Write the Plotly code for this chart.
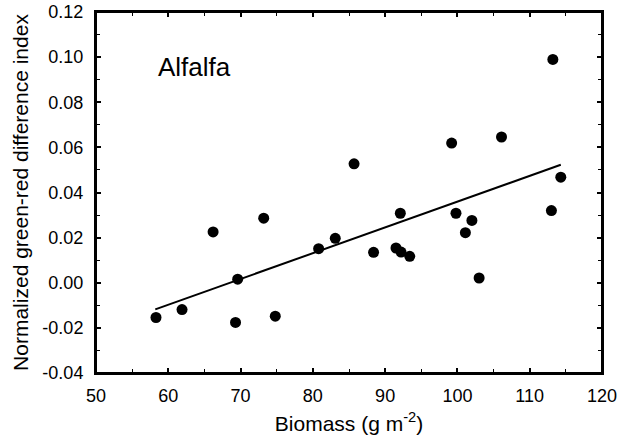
import plotly.graph_objects as go

biomass = [58.3, 61.9, 66.2, 69.3, 69.6, 73.2, 74.8, 80.8, 83.1, 85.7,
           88.4, 91.5, 92.1, 92.2, 93.4, 99.2, 99.8, 101.1, 102.0, 103.0,
           106.1, 113.2, 113.0, 114.3]
ngrdi = [-0.0154, -0.0119, 0.0225, -0.0176, 0.0016, 0.0286, -0.0148, 0.0151, 0.0197, 0.0527,
         0.0135, 0.0154, 0.0308, 0.0136, 0.0117, 0.0619, 0.0308, 0.0222, 0.0276, 0.0021,
         0.0646, 0.0990, 0.0320, 0.0468]
fit_x = [58.2, 114.3]
fit_y = [-0.0118, 0.0523]

x_ticks = [50, 60, 70, 80, 90, 100, 110, 120]
y_ticks = [-0.04, -0.02, 0.00, 0.02, 0.04, 0.06, 0.08, 0.10, 0.12]
y_labels = ["-0.04", "-0.02", "0.00", "0.02", "0.04", "0.06", "0.08", "0.10", "0.12"]

FONT = "Liberation Sans, Arial, sans-serif"

fig = go.Figure()
fig.add_trace(go.Scatter(x=fit_x, y=fit_y, mode="lines",
                         line=dict(color="black", width=2), showlegend=False))
fig.add_trace(go.Scatter(x=biomass, y=ngrdi, mode="markers",
                         marker=dict(color="black", size=11), showlegend=False))

fig.add_annotation(x=58.3, y=0.0958, text="Alfalfa", showarrow=False,
                   xanchor="left", yanchor="middle",
                   font=dict(family=FONT, size=26, color="black"))

# plot frame
fig.add_shape(type="rect", xref="paper", yref="paper", x0=0, y0=0, x1=1, y1=1,
              line=dict(color="black", width=2), layer="above")

axis_common = dict(showline=True, mirror="allticks", linecolor="black", linewidth=2,
                   ticks="inside", ticklen=5, tickwidth=1.5, tickcolor="black",
                   showgrid=False, zeroline=False, automargin=False,
                   tickfont=dict(family=FONT, size=18, color="black"))

fig.update_xaxes(range=[50, 120], tickvals=x_ticks, ticklabelstandoff=5,
                 minor=dict(ticks="inside", ticklen=4, tickwidth=1, tickcolor="black", dtick=5, tick0=50),
                 title=dict(text="Biomass (g m<sup>-2</sup>)", font=dict(family=FONT, size=21, color="black"), standoff=12),
                 **axis_common)
fig.update_yaxes(range=[-0.04, 0.12], tickvals=y_ticks, ticktext=y_labels, ticklabelstandoff=7,
                 minor=dict(ticks="inside", ticklen=4, tickwidth=1, tickcolor="black", dtick=0.01, tick0=-0.04),
                 title=dict(text="Normalized green-red difference index", font=dict(family=FONT, size=21, color="black"), standoff=8),
                 **axis_common)

fig.update_layout(width=618, height=443, paper_bgcolor="white", plot_bgcolor="white",
                  margin=dict(l=96, r=16, t=12, b=70))

fig.write_html("out.html", config={"displayModeBar": False},
               post_script="document.body.style.margin='0';document.body.style.overflow='hidden';")
